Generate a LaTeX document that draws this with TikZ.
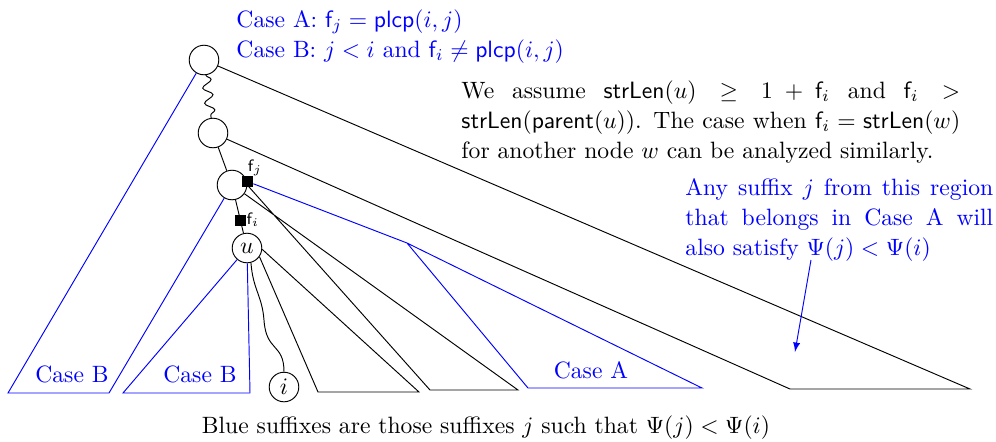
\documentclass[tikz,border=0pt]{standalone}
\usetikzlibrary{decorations.pathmorphing}
\begin{document}
\begin{tikzpicture}[x=0.01488cm, y=-0.01488cm, font=\fontsize{10pt}{12.7pt}\selectfont,
  vtx/.style={draw, circle, minimum size=0.44cm, inner sep=0pt},
  fbox/.style={fill=black, minimum size=0.16cm, inner sep=0pt},
  lbl/.style={blue, anchor=base, inner sep=0pt}]
  \useasboundingbox (0,0) rectangle (996,441);
  \node[vtx] (r1) at (204,60) {};
  \node[vtx] (r2) at (213,133) {};
  \node[vtx] (r3) at (232,185) {};
  \node[vtx] (u) at (247,248) {$u$};
  \node[vtx] (i) at (284,387) {$i$};
  \coordinate (bigL) at (790,389); \coordinate (bigR) at (970,389);
  \coordinate (cbL1) at (8,393); \coordinate (cbR1) at (109,393);
  \coordinate (cbL2) at (123,393); \coordinate (cbR2) at (250,393);
  \coordinate (caTop) at (407,243); \coordinate (caL) at (528,388); \coordinate (caR) at (702,388);
  \coordinate (t2L) at (430,390); \coordinate (t2R) at (518,390);
  \coordinate (t1L) at (318,392); \coordinate (t1R) at (419,392);
  \draw[decorate, decoration={snake, amplitude=2pt, segment length=6.5pt}] (r1) -- (r2);
  \draw (r2) -- (r3);
  \draw (r3) -- (u);
  \draw (r1) -- (bigR) -- (bigL) -- (r2);
  \draw[blue] (r1) -- (cbL1) -- (cbR1) -- (r3);
  \draw[blue] (u) -- (cbL2) -- (cbR2) -- (u);
  \draw (r3.east) -- (t2L) -- (t2R) -- (r3.-35);
  \draw (u.-35) -- (t1L) -- (t1R) -- (u.-5);
  \draw (u.-75) .. controls (253,290) and (262,295) .. (264,320) .. controls (266,352) and (284,343) .. (i);
  \node[fbox] (fj) at (247.5,181.5) {};
  \node[fbox] (fi) at (240.5,220.5) {};
  \draw[blue] (fj) -- (caTop) -- (caR) -- (caL) -- (caTop);
  \node[font=\scriptsize, inner sep=0pt] (fjl) at (255,168) {$\mathsf{f}_j$};
  \node[font=\scriptsize, inner sep=0pt] (fil) at (253,220) {$\mathsf{f}_i$};
  \node[lbl] (cb1) at (72,382) {Case B};
  \node[lbl] (cb2) at (200,382) {Case B};
  \node[lbl] (ca) at (591,378) {Case A};
  \node[blue, anchor=base west, inner sep=0pt] (caseA) at (236,27) {Case A: $\mathsf{f}_j=\mathsf{plcp}(i,j)$};
  \node[blue, anchor=base west, inner sep=0pt] (caseB) at (236,57) {Case B: $j<i$ and $\mathsf{f}_i\neq\mathsf{plcp}(i,j)$};
  \node[anchor=north west, inner sep=0pt, text width=7.42cm, align=justify] (assume) at (461,80) {We assume $\mathsf{strLen}(u)\geq 1+\mathsf{f}_i$ and $\mathsf{f}_i>$\linebreak $\mathsf{strLen}(\mathsf{parent}(u))$. The case when $\mathsf{f}_i=\mathsf{strLen}(w)$\linebreak for another node $w$ can be analyzed similarly.};
  \node[blue, anchor=north west, inner sep=0pt, text width=4.58cm, align=justify] (anysuf) at (685,178) {Any suffix $j$ from this region\linebreak that belongs in Case A will\linebreak also satisfy $\Psi(j)<\Psi(i)$};
  \coordinate (arS) at (811,260); \coordinate (arE) at (795,352);
  \draw[blue, -latex] (arS) -- (arE);
  \node[anchor=base, inner sep=0pt] (capt) at (486,433) {Blue suffixes are those suffixes $j$ such that $\Psi(j)<\Psi(i)$};
\end{tikzpicture}
\end{document}
